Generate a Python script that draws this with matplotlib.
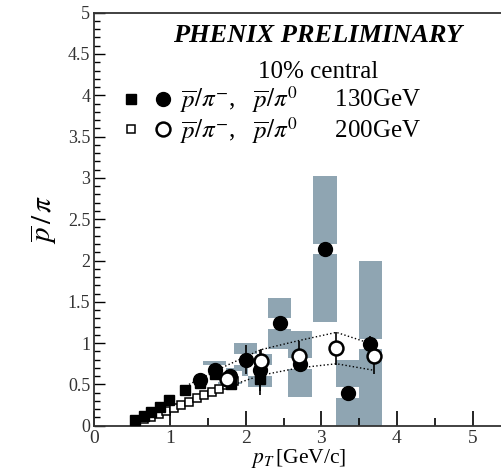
import numpy as np
import matplotlib
matplotlib.use('Agg')
import matplotlib.pyplot as plt
from matplotlib.patches import Rectangle
from matplotlib.legend_handler import HandlerTuple
from matplotlib.ticker import MultipleLocator, FuncFormatter

plt.rcParams['font.family'] = ['Liberation Serif', 'DejaVu Serif']
plt.rcParams['mathtext.fontset'] = 'stix'

# 130 GeV, pbar/pi- (filled squares)
pt_sq130 = [0.54, 0.65, 0.75, 0.86, 0.99, 1.2, 1.4, 1.6, 1.81, 2.19]
r_sq130 = [0.07, 0.12, 0.17, 0.23, 0.31, 0.43, 0.52, 0.62, 0.51, 0.57]
e_sq130 = [0.01, 0.01, 0.02, 0.02, 0.03, 0.04, 0.05, 0.06, 0.08, 0.2]

# 130 GeV, pbar/pi0 (filled circles) + systematic boxes
pt_ci130 = [1.4, 1.59, 1.79, 2.0, 2.19, 2.45, 2.72, 3.05, 3.35, 3.65]
r_ci130 = [0.55, 0.67, 0.60, 0.80, 0.67, 1.24, 0.75, 2.14, 0.40, 0.99]
e_ci130 = [0.05, 0.06, 0.08, 0.18, 0.25, 0.0, 0.0, 0.0, 0.0, 0.1]
sys_ci130 = [0.06, 0.11, 0.1, 0.2, 0.2, 0.31, 0.40, 0.88, 0.40, 1.0]

# 200 GeV, pbar/pi- (open squares)
pt_sq200 = [0.65, 0.75, 0.85, 0.95, 1.05, 1.15, 1.25, 1.35, 1.45, 1.55, 1.65, 1.75, 1.85]
r_sq200 = [0.08, 0.11, 0.14, 0.18, 0.21, 0.25, 0.29, 0.33, 0.37, 0.41, 0.45, 0.49, 0.54]

# 200 GeV, pbar/pi0 (open circles)
pt_ci200 = [1.75, 2.2, 2.7, 3.2, 3.7]
r_ci200 = [0.57, 0.78, 0.84, 0.94, 0.84]
e_ci200 = [0.08, 0.15, 0.18, 0.2, 0.22]

# 200 GeV systematic band (dotted lines)
pt_band = [1.25, 1.75, 2.2, 2.7, 3.2, 3.7]
band_hi = [0.50, 0.73, 0.92, 1.03, 1.13, 0.98]
band_lo = [0.30, 0.47, 0.61, 0.70, 0.75, 0.67]

box_color = '#8fa5b2'
box_w = 0.31
gap = 0.065

fig = plt.figure(figsize=(5.02, 4.72), dpi=100)
ax = fig.add_axes([94.5 / 502, 46.3 / 472, (502 - 94.5) / 502, 413 / 472])

for x, y, s in zip(pt_ci130, r_ci130, sys_ci130):
    ax.add_patch(Rectangle((x - box_w / 2, y - s), box_w, 2 * s,
                           facecolor=box_color, edgecolor='none', zorder=1))
    ax.add_patch(Rectangle((x - box_w / 2, y - gap), box_w, 2 * gap,
                           facecolor='white', edgecolor='none', zorder=1.5))

ax.plot(pt_band, band_hi, ls=':', color='black', lw=1.0, zorder=2)
ax.plot(pt_band, band_lo, ls=':', color='black', lw=1.0, zorder=2)

ax.errorbar(pt_sq130, r_sq130, yerr=e_sq130, fmt='none', ecolor='black', elinewidth=1.2, zorder=3)
ax.errorbar(pt_ci130, r_ci130, yerr=e_ci130, fmt='none', ecolor='black', elinewidth=1.2, zorder=3)
ax.errorbar(pt_ci200, r_ci200, yerr=e_ci200, fmt='none', ecolor='black', elinewidth=1.2, zorder=3)

h_sq200, = ax.plot(pt_sq200, r_sq200, 's', ms=6, mfc='white', mec='black', mew=1.1, ls='none', zorder=4)
h_sq130, = ax.plot(pt_sq130, r_sq130, 's', ms=7, color='black', ls='none', zorder=5)
h_ci130, = ax.plot(pt_ci130, r_ci130, 'o', ms=10, color='black', ls='none', zorder=5)
h_ci200, = ax.plot(pt_ci200, r_ci200, 'o', ms=10, mfc='white', mec='black', mew=1.8, ls='none', zorder=6)

ax.set_xlim(0, 5.39)
ax.set_ylim(0, 5)
ax.xaxis.set_major_locator(MultipleLocator(1))
ax.xaxis.set_minor_locator(MultipleLocator(0.5))
ax.yaxis.set_major_locator(MultipleLocator(0.5))
ax.yaxis.set_minor_locator(MultipleLocator(0.1))
ax.yaxis.set_major_formatter(FuncFormatter(lambda v, p: '%g' % v))
ax.tick_params(axis='x', which='major', direction='in', length=11, width=1.2, labelsize=14, pad=3,
               labelcolor='#333333')
ax.tick_params(axis='x', which='minor', direction='in', length=6, width=1.2)
ax.tick_params(axis='y', which='major', direction='in', length=8, width=1.0, labelsize=13, pad=3,
               labelcolor='#333333')
ax.tick_params(axis='y', which='minor', direction='in', length=4, width=1.0)
ax.spines['right'].set_visible(False)
for s in ['left', 'bottom', 'top']:
    ax.spines[s].set_linewidth(1.3)
    ax.spines[s].set_color('#333333')

ax.set_ylabel(r'$\overline{p}\,/\,\pi$', fontsize=21, labelpad=6)
ax.set_xlabel(r'$p_T\,$[GeV/c]', fontsize=15.5, labelpad=0)

fig.text(318 / 502, 1 - 36 / 472, 'PHENIX PRELIMINARY', fontsize=19, fontweight='bold',
         fontstyle='italic', ha='center', va='center')
fig.text(318 / 502, 1 - 72 / 472, '10% central', fontsize=18, ha='center', va='center')

labels = [r'$\overline{p}/\pi^{-}$,   $\overline{p}/\pi^{0}$      130GeV',
          r'$\overline{p}/\pi^{-}$,   $\overline{p}/\pi^{0}$      200GeV']
fig.legend(handles=[(h_sq130, h_ci130), (h_sq200, h_ci200)], labels=labels,
           handler_map={tuple: HandlerTuple(ndivide=None, pad=0.5)},
           loc='center left', bbox_to_anchor=(122 / 502, 1 - 115 / 472),
           frameon=False, fontsize=18, handlelength=2.0, handletextpad=0.3,
           labelspacing=0.0, borderpad=0, borderaxespad=0)

fig.savefig('out.png', dpi=100)
